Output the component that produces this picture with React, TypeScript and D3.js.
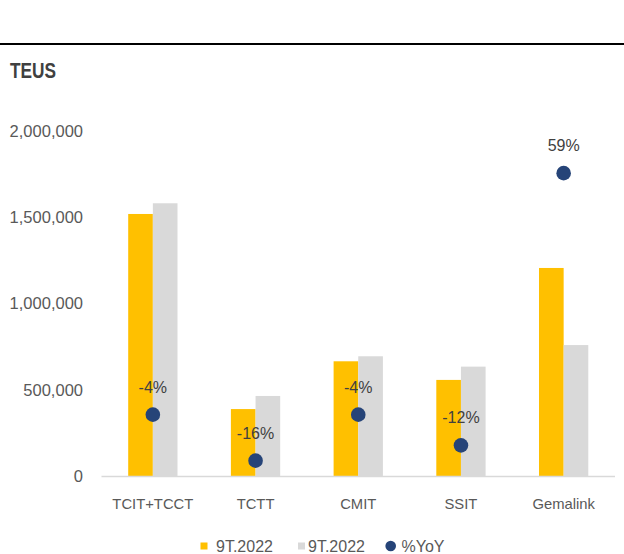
import React from "react";
import * as d3 from "d3";

const categories = ["TCIT+TCCT", "TCTT", "CMIT", "SSIT", "Gemalink"];
const seriesA = [1519000, 388000, 665000, 557000, 1206000];
const seriesB = [1581000, 464000, 694000, 634000, 759000];
const yoy = [-0.04, -0.16, -0.04, -0.12, 0.59];
const yTicks = [0, 500000, 1000000, 1500000, 2000000];
const legendLabels = ["9T.2022", "9T.2022", "%YoY"];

const W = 624;
const H = 554;
const FONT = "'Liberation Sans', Arial, sans-serif";

export default function App() {
  const x0 = d3.scaleBand<string>().domain(categories).range([101.5, 615]).padding(0);
  const step = x0.bandwidth();
  const barW = step * 0.24;
  const y = d3.scaleLinear().domain([0, 2000000]).range([476, 131]);
  const y2 = d3.scaleLinear().domain([-0.2, 0.7]).range([476, 131]);
  const fmt = d3.format(",");
  const pct = (v: number) => `${Math.round(v * 100)}%`;

  return (
    <svg width={W} height={H} style={{ position: "absolute", left: 0, top: 0 }} fontFamily={FONT}>
      <rect width={W} height={H} fill="#fff" />
      <line x1={0} x2={W} y1={44} y2={44} stroke="#000" strokeWidth={2} />
      <text x={10} y={78} fontSize={22.5} fontWeight="bold" fill="#404040" textLength={46} lengthAdjust="spacingAndGlyphs">
        TEUS
      </text>

      {yTicks.map((t) => (
        <text key={t} x={83} y={y(t)} dy="0.35em" textAnchor="end" fontSize={16.5} fill="#595959">
          {fmt(t)}
        </text>
      ))}

      {categories.map((c, i) => {
        const cx = (x0(c) as number) + step / 2;
        return (
          <g key={c}>
            <rect x={cx - barW} y={y(seriesA[i])} width={barW} height={y(0) - y(seriesA[i])} fill="#FFC000" />
            <rect x={cx} y={y(seriesB[i])} width={barW} height={y(0) - y(seriesB[i])} fill="#D9D9D9" />
          </g>
        );
      })}

      <line x1={101.5} x2={615} y1={476.5} y2={476.5} stroke="#D9D9D9" strokeWidth={1.5} />

      {categories.map((c, i) => {
        const cx = (x0(c) as number) + step / 2;
        const dy = y2(yoy[i]);
        return (
          <g key={c + "-yoy"}>
            <circle cx={cx} cy={dy} r={7.3} fill="#264478" />
            <text x={cx} y={dy - 22} textAnchor="middle" fontSize={16} fill="#404040">
              {pct(yoy[i])}
            </text>
          </g>
        );
      })}

      {categories.map((c) => (
        <text key={c + "-lbl"} x={(x0(c) as number) + step / 2} y={508.5} textAnchor="middle" fontSize={14.8} fill="#595959">
          {c}
        </text>
      ))}

      <g>
        <rect x={200.5} y={542.5} width={7} height={7} fill="#FFC000" />
        <text x={216} y={551.5} fontSize={16} fill="#595959">{legendLabels[0]}</text>
        <rect x={298} y={542.5} width={7} height={7} fill="#D9D9D9" />
        <text x={308} y={551.5} fontSize={16} fill="#595959">{legendLabels[1]}</text>
        <circle cx={390.7} cy={546} r={5.3} fill="#264478" />
        <text x={401.5} y={551.5} fontSize={16} fill="#595959">{legendLabels[2]}</text>
      </g>
    </svg>
  );
}
